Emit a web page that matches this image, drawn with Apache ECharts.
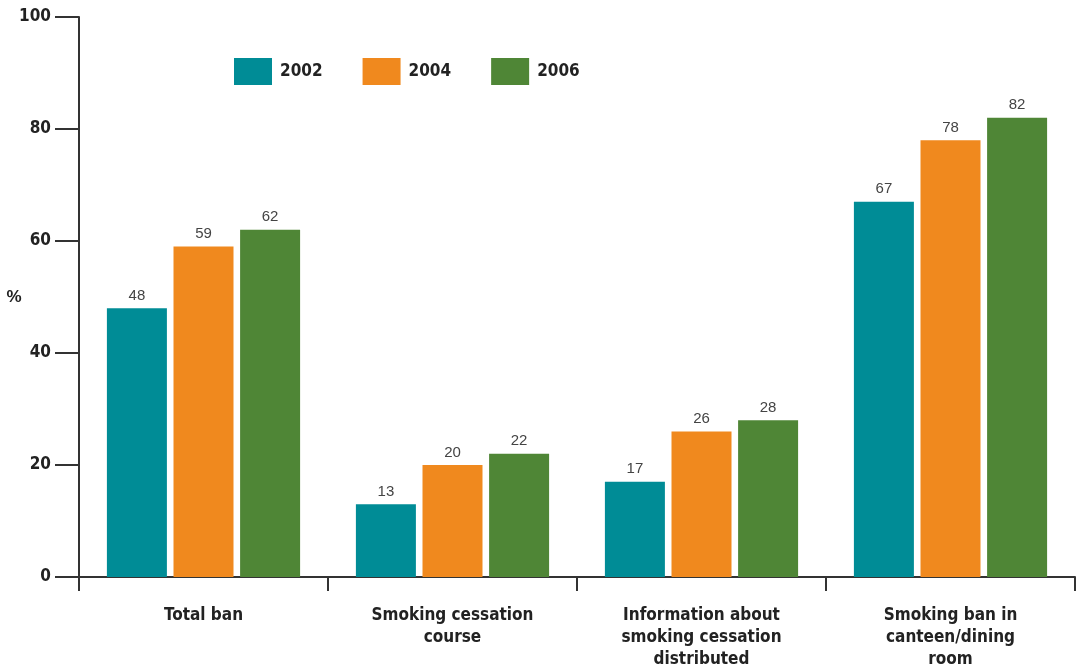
<!DOCTYPE html>
<html>
<head>
<meta charset="utf-8">
<script src="https://cdn.jsdelivr.net/npm/echarts@6/dist/echarts.min.js"></script>
<style>html,body{margin:0;padding:0;background:#fff}#c{width:1077px;height:671px}</style>
</head>
<body>
<div id="c"></div>
<script>
var categories = ['Total ban', 'Smoking cessation\ncourse', 'Information about\nsmoking cessation\ndistributed', 'Smoking ban in\ncanteen/dining\nroom'];
var seriesNames = ['2002', '2004', '2006'];
var values2002 = [48, 13, 17, 67];
var values2004 = [59, 20, 26, 78];
var values2006 = [62, 22, 28, 82];
var colors = ['#008C96', '#F0891E', '#4F8636'];

var chart = echarts.init(document.getElementById('c'));
var data = [values2002, values2004, values2006];
var series = seriesNames.map(function (n, i) {
  return {
    name: n, type: 'bar', data: data[i], barWidth: 60, barGap: '11%',
    itemStyle: { color: colors[i] },
    label: { show: true, position: 'top', distance: 5, color: '#444', fontSize: 15, fontFamily: "'Liberation Sans', Arial, sans-serif" }
  };
});
chart.setOption({
  animation: false,
  grid: { left: 79, right: 2, top: 17, bottom: 94, containLabel: false, outerBoundsMode: 'none' },
  legend: {
    left: 229, top: 53, itemWidth: 38, itemHeight: 27, itemGap: 40,
    icon: 'rect',
    textStyle: { fontSize: 17, fontWeight: 'bold', color: '#222', fontFamily: "'Liberation Sans Narrow', 'DejaVu Sans Condensed', sans-serif", padding: [0, 0, 0, 3] },
    data: seriesNames
  },
  xAxis: {
    type: 'category', data: categories,
    axisLine: { lineStyle: { color: '#333', width: 2 } },
    axisTick: { show: true, length: 14, lineStyle: { color: '#333', width: 2 } },
    axisLabel: { margin: 28, fontSize: 17, fontWeight: 'bold', color: '#222', lineHeight: 22, fontFamily: "'Liberation Sans Narrow', 'DejaVu Sans Condensed', sans-serif" }
  },
  yAxis: {
    type: 'value', min: 0, max: 100, interval: 20,
    name: '%', nameLocation: 'middle', nameRotate: 0, nameGap: 65, nameMoveOverlap: false,
    nameTextStyle: { fontSize: 17, fontWeight: 'bold', color: '#222', fontFamily: "'Liberation Sans', Arial, sans-serif", align: 'center' },
    splitLine: { show: false },
    axisLine: { show: true, lineStyle: { color: '#333', width: 2 } },
    axisTick: { show: true, length: 24, lineStyle: { color: '#333', width: 2 } },
    axisLabel: { margin: 28, fontSize: 17, fontWeight: 'bold', color: '#222', fontFamily: "'Liberation Sans Narrow', 'DejaVu Sans Condensed', sans-serif" }
  },
  series: series
});
</script>
</body>
</html>
